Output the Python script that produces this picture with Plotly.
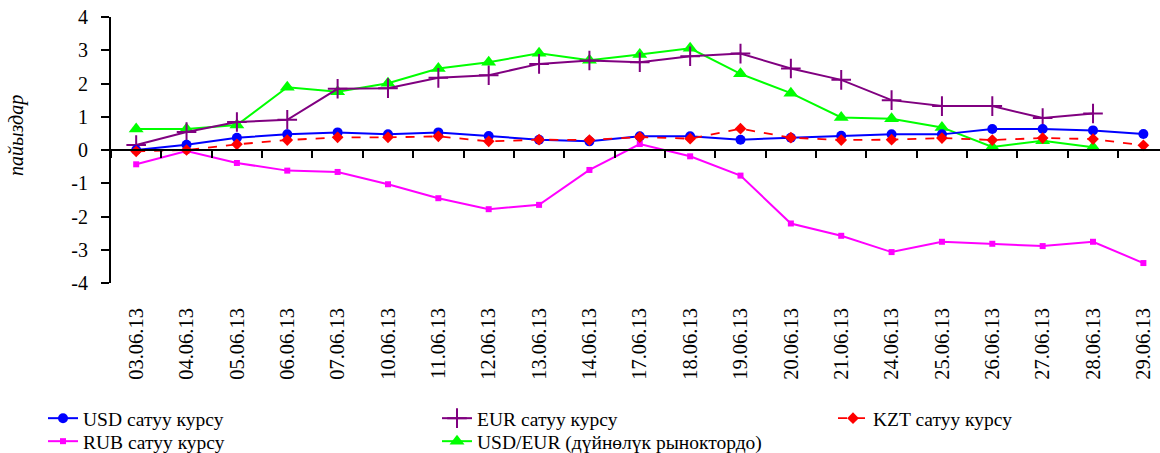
import plotly.graph_objects as go

dates = ["03.06.13", "04.06.13", "05.06.13", "06.06.13", "07.06.13", "10.06.13", "11.06.13",
         "12.06.13", "13.06.13", "14.06.13", "17.06.13", "18.06.13", "19.06.13", "20.06.13",
         "21.06.13", "24.06.13", "25.06.13", "26.06.13", "27.06.13", "28.06.13", "29.06.13"]

usd = [0.00, 0.16, 0.37, 0.47, 0.53, 0.47, 0.53, 0.42, 0.31, 0.26, 0.41,
       0.41, 0.31, 0.37, 0.43, 0.47, 0.47, 0.63, 0.63, 0.59, 0.48]
eur = [0.15, 0.54, 0.84, 0.91, 1.84, 1.86, 2.17, 2.25, 2.59, 2.69, 2.64,
       2.82, 2.90, 2.45, 2.11, 1.50, 1.32, 1.32, 0.96, 1.10, None]
kzt = [-0.04, 0.00, 0.17, 0.30, 0.38, 0.38, 0.41, 0.26, 0.31, 0.30, 0.39,
       0.34, 0.64, 0.37, 0.30, 0.31, 0.36, 0.30, 0.36, 0.33, 0.14]
rub = [-0.43, -0.03, -0.39, -0.62, -0.66, -1.03, -1.45, -1.78, -1.65, -0.60, 0.18,
       -0.19, -0.77, -2.21, -2.58, -3.07, -2.76, -2.82, -2.89, -2.76, -3.40]
usd_eur = [0.63, 0.63, 0.75, 1.89, 1.75, 2.01, 2.45, 2.64, 2.91, 2.70, 2.87,
           3.06, 2.29, 1.71, 0.98, 0.94, 0.68, 0.09, 0.28, 0.08, None]

y_ticks = [-4, -3, -2, -1, 0, 1, 2, 3, 4]
y_tick_text = ["-4", "-3", "-2", "-1", "0", "1", "2", "3", "4"]

names = {
    "usd": "USD сатуу курсу",
    "eur": "EUR сатуу курсу",
    "kzt": "KZT сатуу курсу",
    "rub": "RUB сатуу курсу",
    "usd_eur": "USD/EUR (дүйнөлүк рыноктордо)",
}

FONT = "Liberation Serif"

fig = go.Figure()

fig.add_trace(go.Scatter(x=dates, y=rub, name=names["rub"], mode="lines+markers",
                         line=dict(color="#FF00FF", width=2),
                         marker=dict(symbol="square", size=6, color="#FF00FF"),
                         legend="legend4"))
fig.add_trace(go.Scatter(x=dates, y=usd_eur, name=names["usd_eur"], mode="lines+markers",
                         line=dict(color="#00FF00", width=2),
                         marker=dict(symbol="triangle-up", size=13, color="#00FF00"),
                         legend="legend5"))
fig.add_trace(go.Scatter(x=dates, y=eur, name=names["eur"], mode="lines+markers",
                         line=dict(color="#800080", width=2),
                         marker=dict(symbol="cross-thin", size=14, color="#800080",
                                     line=dict(color="#800080", width=2)),
                         legend="legend2"))
fig.add_trace(go.Scatter(x=dates, y=usd, name=names["usd"], mode="lines+markers",
                         line=dict(color="#0000FF", width=2),
                         marker=dict(symbol="circle", size=10, color="#0000FF"),
                         legend="legend"))
# KZT series is drawn on the zero-crossing category axis (same categories & range)
fig.add_trace(go.Scatter(x=dates, y=kzt, name=names["kzt"], mode="lines+markers",
                         xaxis="x2",
                         line=dict(color="#FF0000", width=1.8, dash="dash"),
                         marker=dict(symbol="diamond", size=9, color="#FF0000"),
                         legend="legend3"))

xr = [-0.5, 20.33]


def leg(x_px, top_px):
    return dict(orientation="v", xref="container", yref="container",
                x=x_px / 1160, y=1 - top_px / 453, xanchor="left", yanchor="top",
                font=dict(family=FONT, size=19.5), bgcolor="rgba(0,0,0,0)")


fig.update_layout(
    width=1160, height=453,
    margin=dict(l=111, r=0, t=17, b=170, autoexpand=False),
    paper_bgcolor="white", plot_bgcolor="white",
    font=dict(family=FONT, color="black"),
    xaxis=dict(type="category", categoryorder="array", categoryarray=dates,
               range=xr, showgrid=False, zeroline=False, showline=False,
               ticks="", tickangle=-90, tickfont=dict(family=FONT, size=20.5),
               ticklabelstandoff=20, automargin=False),
    xaxis2=dict(type="category", categoryorder="array", categoryarray=dates,
                overlaying="x", anchor="free", position=0.5, range=xr,
                tickson="boundaries", ticks="outside", ticklen=7, tickwidth=2,
                tickcolor="black", showline=True, linecolor="black", linewidth=2,
                showticklabels=False, showgrid=False, zeroline=False, automargin=False),
    yaxis=dict(range=[-4, 4], tickvals=y_ticks, ticktext=y_tick_text, ticks="outside",
               ticklen=8, tickwidth=2,
               tickcolor="black", showline=True, linecolor="black", linewidth=2,
               showgrid=False, zeroline=False, tickfont=dict(family=FONT, size=20),
               ticklabelstandoff=9, automargin=False),
    showlegend=True,
    legend=leg(43, 399),
    legend2=leg(437, 399),
    legend3=leg(833, 399),
    legend4=leg(43, 422),
    legend5=leg(437, 422),
    annotations=[dict(text="пайыздар", xref="paper", yref="paper",
                      x=-95 / 1049, y=(283 - 136) / 266, xanchor="center", yanchor="middle",
                      textangle=-90, showarrow=False,
                      font=dict(family=FONT, size=20, style="italic"))],
)

fig.write_html("out.html", config={"displayModeBar": False},
               post_script="document.body.style.margin='0';document.body.style.padding='0';")
